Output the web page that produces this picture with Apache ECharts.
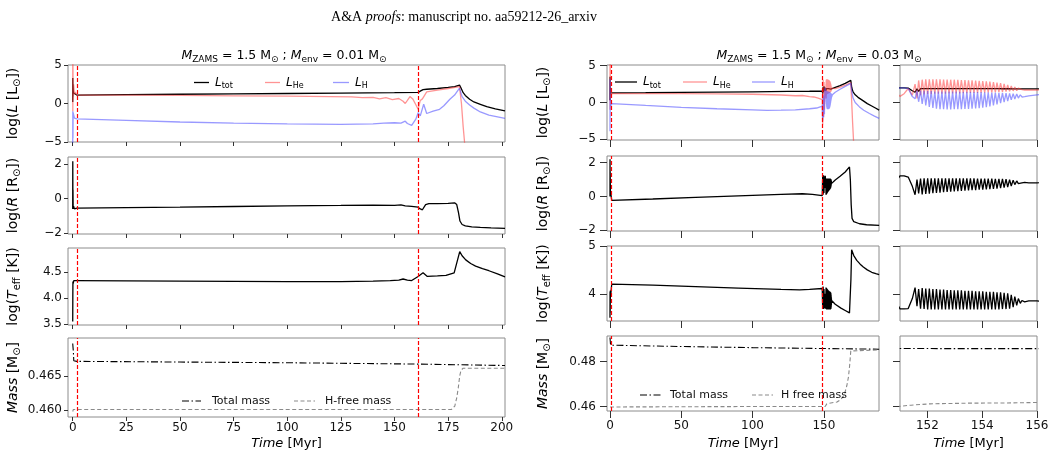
<!DOCTYPE html>
<html>
<head>
<meta charset="utf-8">
<script src="https://cdn.jsdelivr.net/npm/echarts@6/dist/echarts.min.js"></script>
<style>
  html, body { margin: 0; padding: 0; background: #fff; }
  #chart { width: 1058px; height: 458px; }
</style>
</head>
<body>
<div id="chart"></div>
<script>
// ---------- model with M_env = 0.01 Msun (left column) ----------
var t1Ltot = [0, 0.03, 0.08, 0.15, 0.3, 0.6, 1.0, 1.9, 25, 50, 75, 100, 125, 150, 161, 162, 163.3, 165, 170, 175, 178, 180.3, 181, 182, 183, 185, 187, 190, 193, 197, 201.5];
var Ltot1 = [0.2, 3.3, 0.9, 2.5, 1.4, 1.2, 1.15, 1.1, 1.15, 1.2, 1.25, 1.3, 1.35, 1.4, 1.45, 1.6, 1.8, 1.85, 1.95, 2.1, 2.2, 2.4, 2.0, 1.4, 1.05, 0.55, 0.2, -0.1, -0.4, -0.7, -0.97];
var t1LHe = [0, 0.02, 0.05, 0.1, 0.2, 0.4, 0.8, 1.2, 1.9, 25, 50, 75, 100, 120, 130, 135, 140, 143, 146, 149, 152, 154, 155, 156, 157.2, 158.5, 160, 161, 162, 163, 165, 170, 175, 180.3, 181.2, 182, 182.8, 183.5];
var LHe1 = [0.0, 6, -1.0, 5.5, 0.5, 2.5, 1.2, 1.5, 1.1, 1.1, 1.05, 1.0, 0.95, 0.9, 0.85, 0.75, 0.8, 0.6, 0.75, 0.5, 0.65, 0.3, 0.0, 0.4, 0.9, 0.6, -0.2, -0.75, 0.4, 0.6, 1.5, 1.75, 1.95, 2.2, 0.0, -3.0, -5.5, -7];
var t1LH = [0, 0.05, 0.1, 0.2, 0.4, 0.8, 1.2, 1.9, 25, 50, 75, 100, 125, 140, 145, 150, 153, 155, 156, 158, 160, 161, 162, 163.6, 165, 168, 171, 173, 175.8, 178, 180.3, 181.5, 183, 185, 187, 190, 194, 201.5];
var LH1 = [-5.5, -1.0, -4.5, -1.2, -1.4, -1.9, -1.7, -2.0, -2.2, -2.4, -2.55, -2.65, -2.7, -2.65, -2.55, -2.5, -2.55, -2.3, -2.6, -2.85, -2.0, -1.2, -1.6, -0.1, -1.3, -1.0, -0.75, -0.3, 0.55, 1.1, 2.0, 0.9, 0.3, -0.2, -0.6, -1.1, -1.5, -1.93];
var t1R = [0, 0.03, 0.08, 0.12, 0.2, 0.4, 0.8, 1.9, 25, 50, 75, 100, 125, 140, 150, 153, 155, 158, 161, 162, 163, 164.5, 166, 170, 175, 178, 179, 179.8, 180.5, 181.5, 183, 186, 190, 195, 201.5];
var R1 = [-0.6, 2.15, -0.5, 0.5, -0.6, -0.45, -0.6, -0.55, -0.52, -0.5, -0.46, -0.42, -0.4, -0.38, -0.4, -0.37, -0.42, -0.45, -0.5, -0.6, -0.65, -0.35, -0.3, -0.3, -0.28, -0.25, -0.35, -0.8, -1.3, -1.5, -1.58, -1.64, -1.67, -1.7, -1.73];
var t1Teff = [0, 0.05, 0.1, 0.2, 0.5, 1.9, 25, 50, 75, 100, 125, 140, 148, 152, 154, 156, 158, 161, 163.3, 165.3, 170, 174, 177.8, 180.4, 181.5, 183.2, 185.5, 187.8, 191, 194, 198, 201.5];
var Teff1 = [3.55, 4.05, 4.32, 4.28, 4.34, 4.34, 4.335, 4.33, 4.325, 4.32, 4.32, 4.33, 4.34, 4.35, 4.37, 4.35, 4.34, 4.42, 4.49, 4.42, 4.43, 4.44, 4.49, 4.9, 4.82, 4.74, 4.67, 4.62, 4.57, 4.53, 4.47, 4.41];
var t1Mtot = [0, 0.1, 0.3, 0.5, 1.9, 50, 100, 161, 201.5];
var Mtot1 = [0.4697, 0.4697, 0.4685, 0.4672, 0.4671, 0.4670, 0.4669, 0.4667, 0.4665];
var t1Mhf = [0, 0.3, 1.9, 100, 176.6, 178.1, 179.0, 179.7, 180.4, 181.0, 182.0, 201.5];
var Mhf1 = [0.4598, 0.4601, 0.4601, 0.4601, 0.4601, 0.4606, 0.4618, 0.4632, 0.4650, 0.4658, 0.4661, 0.4661];
var marks1 = [1.9, 161.2];

// ---------- model with M_env = 0.03 Msun (middle + zoom column) ----------
// before the flashes
var t3Ltot = [0, 0.05, 0.1, 0.2, 0.5, 1.2, 25, 50, 75, 100, 125, 140, 148.9];
var Ltot3 = [0.3, 3.5, 1.0, 2.0, 1.3, 1.3, 1.33, 1.37, 1.41, 1.45, 1.5, 1.53, 1.56];
var t3LHe = [0, 0.03, 0.08, 0.15, 0.3, 0.6, 1.2, 25, 50, 75, 100, 120, 130, 135, 140, 143, 146, 148.9];
var LHe3 = [0.0, 6, -1, 5.5, 0.5, 2.0, 1.2, 1.22, 1.2, 1.17, 1.12, 1.02, 0.92, 0.95, 0.8, 0.75, 0.6, 0.4];
var t3LH = [0, 0.05, 0.1, 0.2, 0.5, 1.2, 25, 50, 75, 100, 110, 120, 130, 140, 145, 148.9];
var LH3 = [-3.9, 3.2, -2.0, 0.5, -0.5, -0.15, -0.4, -0.65, -0.85, -1.0, -1.07, -1.05, -1.0, -0.85, -0.75, -0.5];
var t3R = [0, 0.03, 0.06, 0.1, 0.3, 0.7, 1.2, 30, 60, 90, 120, 135, 142, 148.9];
var R3 = [0.0, 2.2, 0.5, 1.5, 0.3, 0.1, -0.23, -0.15, -0.06, 0.03, 0.12, 0.16, 0.12, 0.05];
var t3Teff = [0, 0.05, 0.1, 0.3, 0.6, 1.2, 30, 60, 90, 120, 133, 140, 148.9];
var Teff3 = [3.5, 4.05, 3.6, 4.07, 4.0, 4.2, 4.18, 4.15, 4.12, 4.09, 4.08, 4.09, 4.11];

// first strong flashes
var tFlash = [149.2, 149.5, 149.8, 150.1, 150.4, 150.7];
var LtotF = [1.2, 2.1, 1.4, 2.2, 1.6, 2.0];
var LHeF = [-3.0, 3.1, -2.0, 2.8, -1.0, 2.0];
var LHF = [-2.5, 1.0, -2.0, 0.8, -1.6, 1.5];
var RF = [1.2, 0.1, 1.25, 0.2, 1.2, 0.5];
var TeffF = [3.7, 4.15, 3.68, 4.1, 3.7, 4.0];

// lead-in of the zoomed window
var tLead = [151.0, 151.15, 151.3, 151.45];
var LtotL = [1.99, 1.99, 1.95, 1.6];
var LHeL = [0.83, 1.2, 1.9, 1.0];
var LHL = [1.99, 1.98, 1.9, 0.8];
var RL = [1.22, 1.22, 1.15, 0.6];
var TeffL = [3.685, 3.685, 3.69, 3.9];

// sub-flashes (peak / trough pairs)
var pulseT = [151.55,151.62,151.68,151.75,151.81,151.88,151.94,152.01,152.07,152.14,152.20,152.27,152.33,152.40,152.46,152.53,152.59,152.66,152.72,152.79,152.85,152.92,152.98,153.05,153.11,153.18,153.24,153.31,153.37,153.44,153.50,153.57,153.63,153.70,153.76,153.83,153.89,153.96,154.02,154.09,154.15,154.22,154.28,154.35,154.41,154.48,154.54,154.61,154.67,154.74,154.80,154.87,154.93,155.00,155.06,155.13,155.19,155.26,155.32,155.39];
var pulseLtot = [1.40,1.85,1.50,1.88,1.70,1.88,1.72,1.88,1.72,1.88,1.72,1.88,1.72,1.88,1.72,1.88,1.72,1.88,1.72,1.88,1.72,1.88,1.72,1.88,1.72,1.88,1.73,1.88,1.73,1.88,1.73,1.88,1.74,1.88,1.74,1.88,1.75,1.88,1.75,1.88,1.76,1.88,1.77,1.88,1.78,1.88,1.79,1.88,1.80,1.87,1.81,1.87,1.82,1.87,1.83,1.86,1.84,1.86,1.85,1.85];
var pulseLHe = [2.50,0.55,3.00,1.00,3.10,1.10,3.15,1.15,3.15,1.15,3.15,1.20,3.15,1.20,3.15,1.20,3.12,1.20,3.12,1.22,3.10,1.22,3.10,1.24,3.08,1.25,3.06,1.26,3.05,1.28,3.02,1.30,3.00,1.30,2.98,1.32,2.95,1.33,2.92,1.35,2.88,1.36,2.84,1.38,2.78,1.40,2.70,1.42,2.62,1.45,2.52,1.48,2.40,1.52,2.25,1.58,2.10,1.62,1.95,1.68];
var pulseLH = [0.50,1.60,0.10,1.60,-0.20,1.60,-0.40,1.55,-0.60,1.55,-0.75,1.50,-0.85,1.50,-0.90,1.50,-0.92,1.50,-0.93,1.48,-0.93,1.48,-0.92,1.48,-0.91,1.46,-0.90,1.46,-0.88,1.45,-0.86,1.45,-0.84,1.44,-0.80,1.43,-0.76,1.42,-0.70,1.40,-0.62,1.38,-0.52,1.36,-0.40,1.34,-0.26,1.32,-0.10,1.30,0.05,1.27,0.20,1.24,0.35,1.20,0.48,1.15,0.60,1.05];
var pulseR = [0.10,1.00,0.18,1.06,0.12,1.07,0.15,1.07,0.17,1.07,0.19,1.07,0.21,1.07,0.23,1.07,0.25,1.07,0.27,1.07,0.28,1.07,0.30,1.07,0.31,1.07,0.33,1.07,0.34,1.07,0.36,1.07,0.37,1.07,0.38,1.06,0.40,1.06,0.41,1.06,0.42,1.06,0.44,1.06,0.45,1.05,0.47,1.05,0.49,1.04,0.52,1.03,0.56,1.00,0.62,0.97,0.70,0.92,0.76,0.87];
var pulseTeff = [4.13,3.74,4.10,3.69,4.12,3.68,4.11,3.67,4.11,3.67,4.10,3.67,4.10,3.67,4.09,3.67,4.09,3.67,4.08,3.67,4.08,3.67,4.07,3.67,4.07,3.67,4.07,3.67,4.06,3.67,4.06,3.67,4.06,3.67,4.05,3.67,4.05,3.67,4.05,3.67,4.04,3.67,4.04,3.67,4.04,3.67,4.03,3.67,4.03,3.68,4.02,3.68,4.01,3.69,3.98,3.72,3.94,3.76,3.90,3.80];

// settling after the sub-flashes
var tTail = [155.45, 155.55, 155.7];
var LtotT = [1.85, 1.85, 1.85];
var LHeT = [1.75, 1.7, 1.7];
var LHT = [0.75, 0.8, 0.9];
var RT = [0.8, 0.83, 0.81];
var TeffT = [3.86, 3.83, 3.85];

// after the flashes
var t3LtotB = [156, 158, 161.4, 165, 168.9, 169.6, 170.5, 172, 174, 177.7, 180.5, 183.6, 186.5, 188.8];
var Ltot3B = [1.85, 2.05, 2.3, 2.6, 3.0, 2.0, 1.45, 1.05, 0.7, 0.22, -0.15, -0.47, -0.78, -1.03];
var t3LHeB = [156, 158, 161.4, 165, 168.9, 169.5, 170.2, 171];
var LHe3B = [1.7, 1.9, 2.1, 2.35, 2.7, 0.3, -2.8, -5.8];
var t3LHB = [156, 158, 161.4, 165, 168.9, 169.6, 170.5, 172, 175, 178, 182, 185.5, 188.8];
var LH3B = [1.05, 1.4, 1.8, 2.2, 2.6, 1.5, 0.6, 0.0, -0.6, -1.05, -1.5, -1.85, -2.15];
var t3RB = [156, 158, 161.4, 165, 168, 168.6, 169.2, 169.8, 171, 175, 180, 188.8];
var R3B = [0.81, 0.98, 1.2, 1.45, 1.75, 1.0, -0.5, -1.3, -1.5, -1.62, -1.68, -1.72];
var t3TeffB = [156, 158, 162, 165, 168, 168.6, 169.0, 169.5, 171.0, 173.1, 175.5, 177.7, 180.5, 183.6, 186.5, 188.8];
var Teff3B = [3.85, 3.78, 3.7, 3.65, 3.6, 3.59, 4.3, 4.92, 4.8, 4.7, 4.62, 4.56, 4.5, 4.45, 4.42, 4.40];

var t3Mtot = [0, 0.15, 0.4, 1.2, 50, 100, 150, 188.8];
var Mtot3 = [0.4908, 0.4908, 0.4874, 0.4874, 0.4868, 0.4863, 0.4859, 0.4856];
var t3Mhf = [0, 0.3, 1.2, 100, 150.9, 151.4, 152.1, 153.5, 154.9, 156, 159.2, 162, 164, 165, 166.2, 167.3, 168.2, 168.9, 169.5, 188.8];
var Mhf3 = [0.4598, 0.4600, 0.4600, 0.4600, 0.4600, 0.4606, 0.4612, 0.4615, 0.4616, 0.4618, 0.4620, 0.4632, 0.4650, 0.4667, 0.4695, 0.4733, 0.4790, 0.4848, 0.4853, 0.4853];
var marks3 = [1.2, 148.9];

// tick labels
var xTicks1 = [0, 25, 50, 75, 100, 125, 150, 175, 200];
var xTicks3 = [0, 50, 100, 150];
var xTicksZ = [152, 154, 156];
var yTicksL = [-5, 0, 5];
var yTicksR = [-2, 0, 2];
var yTicksT1 = [3.5, 4.0, 4.5];
var yTicksT3 = [4, 5];
var yTicksM1 = [0.460, 0.465];
var yTicksM3 = [0.46, 0.48];

// ---------------------------------------------------------------
var FONT = 'DejaVu Sans';
function pts(t, v) { return t.map(function (x, i) { return [x, v[i]]; }); }
function cat() { return [].concat.apply([], arguments); }
function rich(size) {
  return {
    n: { fontSize: size, fontFamily: FONT, fontWeight: 'normal', color: '#000' },
    i: { fontSize: size, fontFamily: FONT, fontWeight: 'normal', color: '#000', fontStyle: 'italic' },
    s: { fontSize: Math.round(size * 0.7), fontFamily: FONT, fontWeight: 'normal', color: '#000', padding: [Math.round(size * 0.55), 0, 0, 0] }
  };
}

var tM_Ltot = cat(t3Ltot, tFlash, tLead, pulseT, tTail, t3LtotB);
var vM_Ltot = cat(Ltot3, LtotF, LtotL, pulseLtot, LtotT, Ltot3B);
var tM_LHe = cat(t3LHe, tFlash, tLead, pulseT, tTail, t3LHeB);
var vM_LHe = cat(LHe3, LHeF, LHeL, pulseLHe, LHeT, LHe3B);
var tM_LH = cat(t3LH, tFlash, tLead, pulseT, tTail, t3LHB);
var vM_LH = cat(LH3, LHF, LHL, pulseLH, LHT, LH3B);
var tM_R = cat(t3R, tFlash, tLead, pulseT, tTail, t3RB);
var vM_R = cat(R3, RF, RL, pulseR, RT, R3B);
var tM_T = cat(t3Teff, tFlash, tLead, pulseT, tTail, t3TeffB);
var vM_T = cat(Teff3, TeffF, TeffL, pulseTeff, TeffT, Teff3B);

var C_TOT = '#000000', C_HE = 'rgba(255,60,60,0.55)', C_H = 'rgba(70,70,255,0.55)', C_HF = '#8a8a8a';
var DASHDOT = [7, 2.5, 1.5, 2.5], DASH = [4, 2.5];

var grids = [], xAxes = [], yAxes = [], series = [];
var colLeft = [68, 607, 900], colWidth = [437, 272, 137];
var rowTop = [[65, 157, 248, 338], [65, 156, 246, 336], [65, 156, 246, 336]];
var rowH = [[77, 77, 77, 79], [75, 75, 75, 75], [75, 75, 75, 75]];
var xRange = [[-2.2, 201.5], [-2.1, 188.7], [151, 156]];
var xTicks = [xTicks1, xTicks3, xTicksZ];
var yNames = [
  '{n|log(}{i|L}{n| [L}{s|⊙}{n|])}',
  '{n|log(}{i|R}{n| [R}{s|⊙}{n|])}',
  '{n|log(}{i|T}{s|eff}{n| [K])}',
  '{i|Mass}{n| [M}{s|⊙}{n|]}'
];
var yRange = [
  [[-5, 5], [-2.05, 2.4], [3.48, 4.97], [0.459, 0.4705]],
  [[-5.1, 5.1], [-2.05, 2.4], [3.43, 5.0], [0.458, 0.4915]],
  [[-5.1, 5.1], [-2.05, 2.4], [3.43, 5.0], [0.458, 0.4915]]
];
var yTicks = [
  [yTicksL, yTicksR, yTicksT1, yTicksM1],
  [yTicksL, yTicksR, yTicksT3, yTicksM3],
  [yTicksL, yTicksR, yTicksT3, yTicksM3]
];
var yFmt = [
  [0, 0, 1, 3],
  [0, 0, 0, 2],
  [0, 0, 0, 2]
];

function fmtTick(v, dec) {
  var s = dec ? v.toFixed(dec) : String(Math.round(v));
  return s.replace('-', '\u2212');
}

for (var c = 0; c < 3; c++) {
  var tickLen = c === 0 ? 4 : 7;
  for (var r = 0; r < 4; r++) {
    var gi = grids.length;
    grids.push({
      left: colLeft[c], top: rowTop[c][r], width: colWidth[c], height: rowH[c][r],
      show: true, borderColor: '#8c8c8c', borderWidth: 1, backgroundColor: '#fff',
      containLabel: false
    });
    var bottom = r === 3;
    xAxes.push({
      type: 'value', gridIndex: gi, min: xRange[c][0], max: xRange[c][1], position: 'bottom',
      splitLine: { show: false }, axisLine: { show: false, onZero: false },
      axisTick: { show: true, length: tickLen, customValues: xTicks[c], lineStyle: { color: '#333' } },
      axisLabel: { show: bottom, customValues: xTicks[c], margin: c === 0 ? 5 : 9, fontSize: 12, fontFamily: FONT, color: '#111' },
      name: bottom ? '{i|Time}{n| [Myr]}' : '', nameLocation: 'middle', nameGap: c === 0 ? 20 : 26,
      nameTextStyle: { rich: rich(13) }
    });
    (function (dec) {
      yAxes.push({
        type: 'value', gridIndex: gi, min: yRange[c][r][0], max: yRange[c][r][1], position: 'left',
        splitLine: { show: false }, axisLine: { show: false, onZero: false },
        axisTick: { show: true, length: tickLen, customValues: yTicks[c][r], lineStyle: { color: '#333' } },
        axisLabel: {
          show: c < 2, customValues: yTicks[c][r], margin: c === 0 ? 6 : 11, fontSize: 12, fontFamily: FONT, color: '#111',
          formatter: function (v) { return fmtTick(v, dec); }
        },
        name: c < 2 ? yNames[r] : '', nameLocation: 'middle', nameRotate: 90,
        nameGap: c === 0 ? 46 : 55, nameTextStyle: { rich: rich(14) }
      });
    })(yFmt[c][r]);
  }
}

function line(name, gi, t, v, color, width, dash, marks) {
  var s = {
    name: name, type: 'line', xAxisIndex: gi, yAxisIndex: gi, data: pts(t, v),
    symbol: 'none', showSymbol: false, clip: true, silent: true, animation: false,
    lineStyle: { color: color, width: width, type: dash || 'solid' }, itemStyle: { color: color }
  };
  if (marks) {
    s.markLine = {
      silent: true, symbol: ['none', 'none'], label: { show: false }, animation: false,
      lineStyle: { color: '#ff0000', type: [4, 2], width: 1.2 },
      data: marks.map(function (x) { return { xAxis: x }; })
    };
  }
  return s;
}

// left column
series.push(line('Ltot', 0, t1Ltot, Ltot1, C_TOT, 1.3, null, marks1));
series.push(line('LHe', 0, t1LHe, LHe1, C_HE, 1.3));
series.push(line('LH', 0, t1LH, LH1, C_H, 1.3));
series.push(line('R', 1, t1R, R1, C_TOT, 1.3, null, marks1));
series.push(line('Teff', 2, t1Teff, Teff1, C_TOT, 1.3, null, marks1));
series.push(line('Total mass', 3, t1Mtot, Mtot1, C_TOT, 1.1, DASHDOT, marks1));
series.push(line('H-free mass', 3, t1Mhf, Mhf1, C_HF, 1.1, DASH));
// middle column and zoom column share the same tracks
[4, 8].forEach(function (g0) {
  var mk = g0 === 4 ? marks3 : null;
  series.push(line('Ltot', g0, tM_Ltot, vM_Ltot, C_TOT, 1.3, null, mk));
  series.push(line('LHe', g0, tM_LHe, vM_LHe, C_HE, 1.3));
  series.push(line('LH', g0, tM_LH, vM_LH, C_H, 1.3));
  series.push(line('R', g0 + 1, tM_R, vM_R, C_TOT, 1.3, null, mk));
  series.push(line('Teff', g0 + 2, tM_T, vM_T, C_TOT, 1.3, null, mk));
  series.push(line('Total mass', g0 + 3, t3Mtot, Mtot3, C_TOT, 1.1, DASHDOT, mk));
  series.push(line('H free mass', g0 + 3, t3Mhf, Mhf3, C_HF, 1.1, DASH));
});

// hand-placed legends (matplotlib style: short line + label)
var legRich = rich(12);
function legendItem(x1, x2, y, color, width, dash, text, useRich, gap) {
  return [
    { type: 'line', silent: true, z: 10, shape: { x1: x1, y1: y, x2: x2, y2: y },
      style: { stroke: color, lineWidth: width, lineDash: dash || null } },
    { type: 'text', silent: true, z: 10, x: x2 + gap, y: y,
      style: useRich
        ? { text: text, rich: legRich, verticalAlign: 'middle', align: 'left' }
        : { text: text, font: '11px "DejaVu Sans"', fill: '#111', verticalAlign: 'middle', align: 'left' } }
  ];
}
var graphics = cat(
  legendItem(194, 209, 82.5, C_TOT, 1.3, null, '{i|L}{s|tot}', true, 6),
  legendItem(265, 280, 82.5, C_HE, 1.3, null, '{i|L}{s|He}', true, 6),
  legendItem(333, 349, 82.5, C_H, 1.3, null, '{i|L}{s|H}', true, 6),
  legendItem(615, 637, 82, C_TOT, 1.3, null, '{i|L}{s|tot}', true, 6),
  legendItem(683, 707, 82, C_HE, 1.3, null, '{i|L}{s|He}', true, 6),
  legendItem(752, 775, 82, C_H, 1.3, null, '{i|L}{s|H}', true, 6),
  legendItem(182, 201, 401, C_TOT, 1.1, DASHDOT, 'Total mass', false, 11),
  legendItem(294, 315, 401, C_HF, 1.1, DASH, 'H-free mass', false, 10),
  legendItem(640, 662, 395, C_TOT, 1.1, DASHDOT, 'Total mass', false, 8),
  legendItem(752, 773, 395, C_HF, 1.1, DASH, 'H free mass', false, 8)
);

var option = {
  animation: false,
  backgroundColor: '#fff',
  textStyle: { fontFamily: FONT },
  title: [
    {
      text: '{n|A&A }{it|proofs}{n|: manuscript no. aa59212-26_arxiv}', left: 459, top: 5, textAlign: 'center',
      textStyle: { fontWeight: 'normal', rich: {
        n: { fontFamily: 'Liberation Serif', fontSize: 14, fontWeight: 'normal', color: '#000' },
        it: { fontFamily: 'Liberation Serif', fontSize: 14, fontWeight: 'normal', fontStyle: 'italic', color: '#000' }
      } }
    },
    {
      text: '{i|M}{s|ZAMS}{n| = 1.5 M}{s|⊙}{n| ; }{i|M}{s|env}{n| = 0.01 M}{s|⊙}',
      left: 279, top: 43, textAlign: 'center', textStyle: { fontWeight: 'normal', rich: rich(12.5) }
    },
    {
      text: '{i|M}{s|ZAMS}{n| = 1.5 M}{s|⊙}{n| ; }{i|M}{s|env}{n| = 0.03 M}{s|⊙}',
      left: 814, top: 43, textAlign: 'center', textStyle: { fontWeight: 'normal', rich: rich(12.5) }
    }
  ],
  grid: grids,
  xAxis: xAxes,
  yAxis: yAxes,
  series: series,
  graphic: graphics
};

var myChart = echarts.init(document.getElementById('chart'), null, { renderer: 'canvas' });
myChart.setOption(option);
</script>
</body>
</html>
